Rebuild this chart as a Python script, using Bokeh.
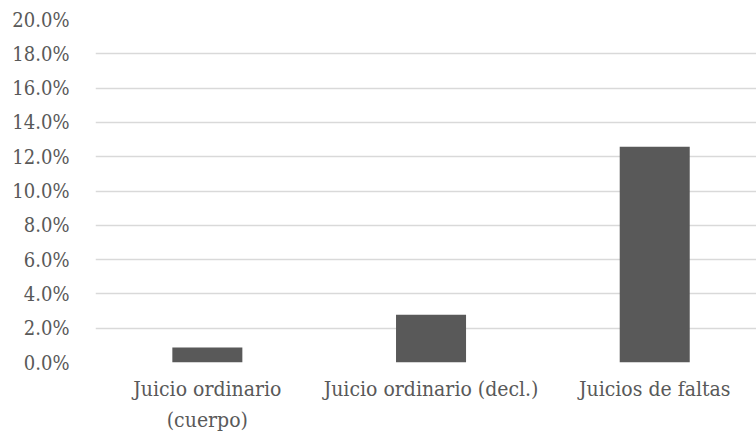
from bokeh.plotting import figure
from bokeh.models import Range1d, FixedTicker, NumeralTickFormatter
from bokeh.embed import file_html
from bokeh.resources import INLINE

categories = ["Juicio ordinario\n(cuerpo)", "Juicio ordinario (decl.)", "Juicios de faltas"]
values = [0.0087, 0.0278, 0.1258]
y_ticks = [0.0, 0.02, 0.04, 0.06, 0.08, 0.10, 0.12, 0.14, 0.16, 0.18, 0.20]

xs = [i + 0.5 for i in range(len(categories))]

p = figure(width=756, height=434, output_backend="svg", toolbar_location=None,
           x_range=Range1d(0, 2.955), y_range=Range1d(0, 0.2),
           min_border_left=95, min_border_right=0, min_border_top=19, min_border_bottom=71)
p.outline_line_color = None
p.background_fill_color = "white"

p.vbar(x=xs, top=values, width=0.313, bottom=0, fill_color="#595959", line_color=None)

p.yaxis.ticker = FixedTicker(ticks=y_ticks)
p.yaxis.formatter = NumeralTickFormatter(format="0.0%")
p.yaxis.axis_line_color = None
p.yaxis.major_tick_line_color = None
p.yaxis.minor_tick_line_color = None
p.yaxis.major_label_text_font = "DejaVu Serif Condensed"
p.yaxis.major_label_text_font_size = "20px"
p.yaxis.major_label_text_color = "#595959"
p.yaxis.major_label_standoff = 20

p.xaxis.ticker = FixedTicker(ticks=xs)
p.xaxis.major_label_overrides = {x: c for x, c in zip(xs, categories)}
p.xaxis.axis_line_color = None
p.xaxis.major_tick_line_color = None
p.xaxis.minor_tick_line_color = None
p.xaxis.major_label_text_font = "DejaVu Serif Condensed"
p.xaxis.major_label_text_font_size = "21px"
p.xaxis.major_label_text_color = "#595959"
p.xaxis.major_label_text_line_height = 1.3
p.xaxis.major_label_standoff = 8

p.xgrid.grid_line_color = None
p.ygrid.ticker = FixedTicker(ticks=y_ticks)
p.ygrid.grid_line_color = "#d9d9d9"
p.ygrid.grid_line_width = 1.5

open("out.html", "w").write(file_html(p, INLINE))
